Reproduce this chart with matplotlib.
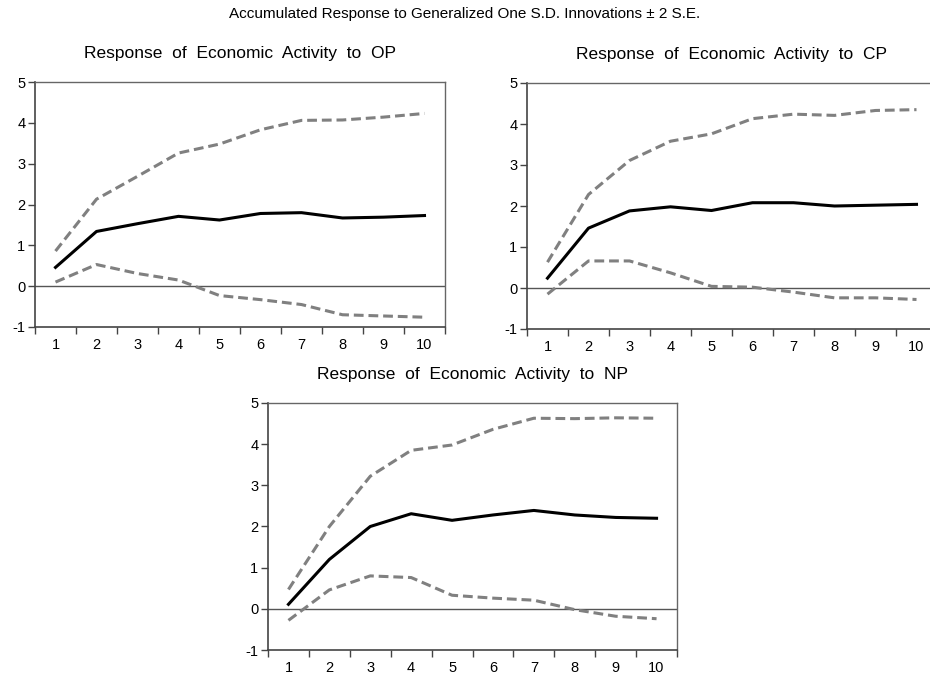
import numpy as np
import matplotlib.pyplot as plt

plt.rcParams['font.family'] = ['Liberation Sans', 'DejaVu Sans']
plt.rcParams['axes.unicode_minus'] = False

periods = np.arange(1, 11)

# Response of Economic Activity to OP
op_resp = [0.46, 1.34, 1.53, 1.71, 1.62, 1.78, 1.80, 1.67, 1.69, 1.73]
op_upper = [0.86, 2.13, 2.69, 3.26, 3.48, 3.83, 4.06, 4.07, 4.14, 4.23]
op_lower = [0.10, 0.53, 0.31, 0.15, -0.23, -0.33, -0.45, -0.70, -0.73, -0.76]

# Response of Economic Activity to CP
cp_resp = [0.24, 1.46, 1.88, 1.98, 1.89, 2.08, 2.08, 2.00, 2.02, 2.04]
cp_upper = [0.63, 2.28, 3.11, 3.58, 3.76, 4.13, 4.24, 4.21, 4.33, 4.35]
cp_lower = [-0.15, 0.66, 0.66, 0.37, 0.04, 0.02, -0.10, -0.24, -0.24, -0.28]

# Response of Economic Activity to NP
np_resp = [0.11, 1.20, 2.00, 2.31, 2.15, 2.28, 2.39, 2.28, 2.22, 2.20]
np_upper = [0.47, 2.00, 3.22, 3.85, 3.98, 4.36, 4.63, 4.62, 4.64, 4.63]
np_lower = [-0.28, 0.46, 0.80, 0.76, 0.33, 0.26, 0.21, -0.02, -0.18, -0.24]

panels = [
    ('Response  of  Economic  Activity  to  OP', op_resp, op_upper, op_lower,
     [35 / 930, 1 - 327 / 681, 410 / 930, 245 / 681]),
    ('Response  of  Economic  Activity  to  CP', cp_resp, cp_upper, cp_lower,
     [527 / 930, 1 - 329 / 681, 410 / 930, 246 / 681]),
    ('Response  of  Economic  Activity  to  NP', np_resp, np_upper, np_lower,
     [268 / 930, 1 - 650 / 681, 409 / 930, 247 / 681]),
]

fig = plt.figure(figsize=(9.3, 6.81), dpi=100)
fig.text(0.5, 1 - 14 / 681, 'Accumulated Response to Generalized One S.D. Innovations \u00b1 2 S.E.',
         ha='center', va='center', fontsize=11)

for title, resp, upper, lower, rect in panels:
    ax = fig.add_axes(rect)
    ax.axhline(0, color='#555555', lw=1.0)
    ax.plot(periods, upper, color='#808080', lw=2.2, ls=(0, (3.2, 1.6)))
    ax.plot(periods, lower, color='#808080', lw=2.2, ls=(0, (3.2, 1.6)))
    ax.plot(periods, resp, color='black', lw=2.2)
    ax.set_xlim(0.5, 10.5)
    ax.set_ylim(-1, 5)
    ax.set_yticks(range(-1, 6))
    ax.set_xticks(np.arange(0.5, 11, 1))
    ax.set_xticklabels([])
    ax.set_xticks(periods, minor=True)
    ax.set_xticklabels([str(p) for p in periods], minor=True)
    ax.tick_params(axis='x', which='minor', length=0, pad=8, labelsize=10.5)
    ax.tick_params(axis='x', which='major', length=5, width=1, direction='out', color='#444444')
    ax.tick_params(axis='y', length=5, width=1, direction='out', color='#444444', labelsize=10.5, pad=2)
    for side in ['left', 'bottom']:
        ax.spines[side].set_color('#444444')
        ax.spines[side].set_linewidth(1.2)
    for side in ['top', 'right']:
        ax.spines[side].set_color('#666666')
        ax.spines[side].set_linewidth(1.0)
    ax.set_title(title, fontsize=12.5, pad=17)

fig.savefig('out.png', dpi=100)
